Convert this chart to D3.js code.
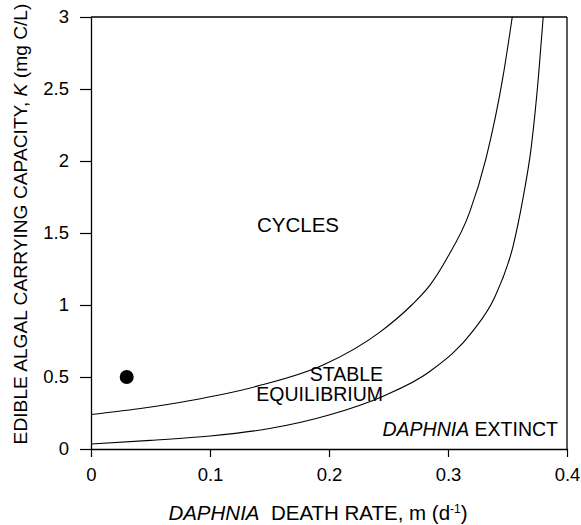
<!DOCTYPE html>
<html>
<head>
<meta charset="utf-8">
<script src="https://cdn.jsdelivr.net/npm/d3@7"></script>
<style>
  body { margin: 0; background: #fff; }
  svg text { font-family: "Liberation Sans", Arial, Helvetica, sans-serif; fill: #000; }
</style>
</head>
<body>
<svg id="chart" width="581" height="525"></svg>
<script>
// x ticks (death rate, m) and y ticks (carrying capacity, K)
const xTicks = [0, 0.1, 0.2, 0.3, 0.4];
const xTickLabels = ["0", "0.1", "0.2", "0.3", "0.4"];
const yTicks = [0, 0.5, 1, 1.5, 2, 2.5, 3];
const yTickLabels = ["0", "0.5", "1", "1.5", "2", "2.5", "3"];

// upper boundary (cycles / stable equilibrium)
const upperM = [0, 0.04, 0.0825, 0.139, 0.195, 0.2425, 0.2695, 0.285, 0.2988, 0.318, 0.332, 0.3465, 0.354];
const upperK = [0.24, 0.28, 0.335, 0.435, 0.583, 0.81, 1.0, 1.14, 1.32, 1.64, 2.02, 2.6, 3.0];

// lower boundary (stable equilibrium / daphnia extinct)
const lowerM = [0, 0.05, 0.1, 0.15, 0.2, 0.245, 0.285, 0.321, 0.339, 0.355, 0.363, 0.370, 0.376, 0.380];
const lowerK = [0.035, 0.06, 0.09, 0.142, 0.236, 0.365, 0.54, 0.82, 1.05, 1.42, 1.74, 2.1, 2.585, 3.0];

// observed point
const pointM = [0.03];
const pointK = [0.5];

const svg = d3.select("#chart");

const x = d3.scaleLinear().domain([0, 0.4]).range([91, 567]);
const y = d3.scaleLinear().domain([0, 3]).range([449, 17]);

// frame: top and right edges
svg.append("line")
    .attr("x1", x(0)).attr("x2", x(0.4))
    .attr("y1", y(3)).attr("y2", y(3))
    .attr("stroke", "#000").attr("stroke-width", 1.3);
svg.append("line")
    .attr("x1", x(0.4)).attr("x2", x(0.4))
    .attr("y1", y(3)).attr("y2", y(0))
    .attr("stroke", "#000").attr("stroke-width", 1.3);

// x axis
const xAxis = svg.append("g")
    .attr("transform", `translate(0,${y(0)})`)
    .call(d3.axisBottom(x)
        .tickValues(xTicks)
        .tickFormat((d, i) => xTickLabels[i])
        .tickSize(8)
        .tickSizeOuter(0)
        .tickPadding(11));

// y axis
const yAxis = svg.append("g")
    .attr("transform", `translate(${x(0)},0)`)
    .call(d3.axisLeft(y)
        .tickValues(yTicks)
        .tickFormat((d, i) => yTickLabels[i])
        .tickSize(11)
        .tickSizeOuter(0)
        .tickPadding(11));

[xAxis, yAxis].forEach(g => {
    g.select(".domain").attr("stroke", "#000").attr("stroke-width", 1.3);
    g.selectAll(".tick line").attr("stroke", "#000").attr("stroke-width", 1.2);
    g.selectAll(".tick text")
        .style("font-size", "18.5px")
        .style("font-family", "'Liberation Sans', Arial, sans-serif")
        .attr("fill", "#000");
});

// boundary curves
const line = d3.line()
    .x(d => x(d[0]))
    .y(d => y(d[1]))
    .curve(d3.curveMonotoneX);

svg.append("path")
    .datum(upperM.map((m, i) => [m, upperK[i]]))
    .attr("d", line)
    .attr("fill", "none")
    .attr("stroke", "#000")
    .attr("stroke-width", 1.1);

svg.append("path")
    .datum(lowerM.map((m, i) => [m, lowerK[i]]))
    .attr("d", line)
    .attr("fill", "none")
    .attr("stroke", "#000")
    .attr("stroke-width", 1.1);

// observed point
svg.selectAll(".obs")
    .data(pointM.map((m, i) => [m, pointK[i]]))
    .enter()
    .append("circle")
    .attr("class", "obs")
    .attr("cx", d => x(d[0]))
    .attr("cy", d => y(d[1]))
    .attr("r", 7)
    .attr("fill", "#000");

// region labels
svg.append("text")
    .attr("x", 298).attr("y", 232)
    .attr("text-anchor", "middle")
    .style("font-size", "20.5px")
    .text("CYCLES");

svg.append("text")
    .attr("x", 383).attr("y", 381)
    .attr("text-anchor", "end")
    .style("font-size", "19.5px")
    .text("STABLE");

svg.append("text")
    .attr("x", 383).attr("y", 401)
    .attr("text-anchor", "end")
    .style("font-size", "19.5px")
    .text("EQUILIBRIUM");

const ext = svg.append("text")
    .attr("x", 558).attr("y", 436)
    .attr("text-anchor", "end")
    .style("font-size", "19.5px");
ext.append("tspan").style("font-style", "italic").text("DAPHNIA");
ext.append("tspan").text(" EXTINCT");

// axis titles
const xt = svg.append("text")
    .attr("x", 318).attr("y", 520)
    .attr("text-anchor", "middle")
    .style("font-size", "20.5px");
xt.append("tspan").style("font-style", "italic").text("DAPHNIA");
xt.append("tspan").text("\u00a0 DEATH RATE, m (d");
xt.append("tspan").attr("dy", -7).style("font-size", "12px").text("-1");
xt.append("tspan").attr("dy", 7).text(")");

const yt = svg.append("text")
    .attr("transform", "translate(27,224) rotate(-90)")
    .attr("text-anchor", "middle")
    .style("font-size", "19.2px");
yt.append("tspan").text("EDIBLE ALGAL CARRYING CAPACITY, ");
yt.append("tspan").style("font-style", "italic").text("K");
yt.append("tspan").text(" (mg C/L)");
</script>
</body>
</html>
